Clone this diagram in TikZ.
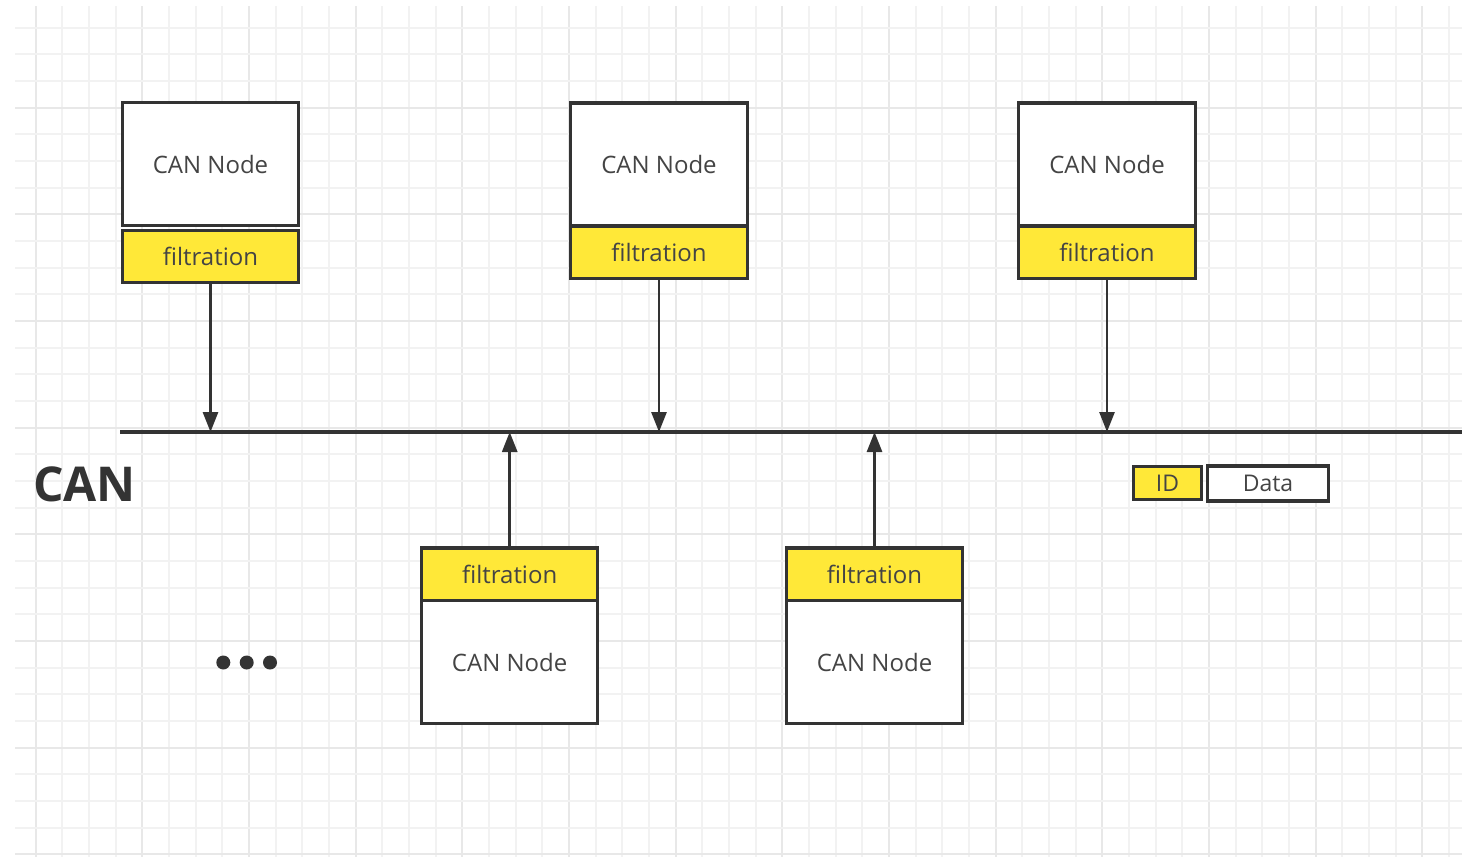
\documentclass[tikz,border=0pt]{standalone}
\usepackage{fontspec}
\setmainfont{Open Sans}
\usetikzlibrary{arrows.meta}
\definecolor{bd}{HTML}{333333}
\definecolor{yel}{HTML}{FFE838}
\definecolor{txt}{HTML}{444444}
\definecolor{gmin}{HTML}{F2F2F2}
\definecolor{gmaj}{HTML}{E8E8E8}
\tikzset{
  whitebox/.style={draw=bd, line width=3.3pt, fill=white, text=txt, inner sep=0pt, font=\fontsize{24}{28}\selectfont},
  yelbox/.style={draw=bd, line width=3.3pt, fill=yel, text=txt, inner sep=0pt, font=\fontsize{24}{28}\selectfont},
  busline/.style={draw=bd, line width=3.3pt},
  conn/.style={draw=bd, line width=2.8pt, -{Triangle[length=20pt,width=15pt]}},
  dot/.style={circle, fill=bd, inner sep=0pt, minimum size=14pt}
}
\begin{document}
\begin{tikzpicture}[x=1pt,y=-1pt]
\useasboundingbox (0,0) rectangle (1462,857);
\fill[white] (0,0) rectangle (1462,857);
% grid
\begin{scope}
\clip (15,6) rectangle (1462,857);
\foreach \i in {0,...,53} {
  \pgfmathtruncatemacro{\m}{mod(\i,4)}
  \pgfmathsetmacro{\gx}{round(35.67+26.667*\i)}
  \ifnum\m=0
    \draw[gmaj, line width=2pt] (\gx,6) -- ++(0,851);
  \else
    \draw[gmin, line width=2pt] (\gx,6) -- ++(0,851);
  \fi
}
\foreach \j in {0,...,32} {
  \pgfmathtruncatemacro{\m}{mod(\j,4)}
  \pgfmathsetmacro{\gy}{round(1+26.667*\j)}
  \ifnum\m=0
    \draw[gmaj, line width=2pt] (15,\gy) -- ++(1447,0);
  \else
    \draw[gmin, line width=2pt] (15,\gy) -- ++(1447,0);
  \fi
}
\end{scope}

% bus
\coordinate (busL) at (120,432);
\coordinate (busR) at (1462,432);
\draw[busline] (busL) -- (busR);
\coordinate (b1) at (210.5,432);
\coordinate (b2) at (659,432);
\coordinate (b3) at (1107,432);
\coordinate (b4) at (509.7,432);
\coordinate (b5) at (874.5,432);

% top nodes
\node[whitebox, minimum width=176pt, minimum height=123pt] (n1) at (210.5,164) {CAN Node};
\node[yelbox, minimum width=176pt, minimum height=52pt] (f1) at (210.5,256.5) {filtration};
\node[whitebox, minimum width=177pt, minimum height=123pt] (n2) at (659,164.5) {CAN Node};
\node[yelbox, minimum width=177pt, minimum height=52.5pt] (f2) at (659,252.25) {filtration};
\node[whitebox, minimum width=176.5pt, minimum height=123pt] (n3) at (1107,164.5) {CAN Node};
\node[yelbox, minimum width=176.5pt, minimum height=52.5pt] (f3) at (1107,252.25) {filtration};

% bottom nodes
\node[yelbox, minimum width=176pt, minimum height=52.5pt] (f4) at (509.7,574.25) {filtration};
\node[whitebox, minimum width=176pt, minimum height=123pt] (n4) at (509.7,662) {CAN Node};
\node[yelbox, minimum width=176pt, minimum height=52.5pt] (f5) at (874.5,574.25) {filtration};
\node[whitebox, minimum width=176pt, minimum height=123pt] (n5) at (874.5,662) {CAN Node};

% arrows
\draw[conn] (f1.south) -- (b1);
\draw[conn] (f2.south) -- (b2);
\draw[conn] (f3.south) -- (b3);
\draw[conn] (f4.north) -- (b4);
\draw[conn] (f5.north) -- (b5);

% CAN label
\node[anchor=west, inner sep=0pt, text=bd, font=\fontsize{48}{52}\selectfont\bfseries] (can) at (33,484.5) {CAN};

% dots
\node[dot] (d1) at (223.3,662.5) {};
\node[dot] (d2) at (246.7,662.5) {};
\node[dot] (d3) at (270,662.5) {};

% frame legend
\node[yelbox, minimum width=68.5pt, minimum height=33pt, font=\fontsize{23}{27}\selectfont] (id) at (1167.5,483) {ID};
\node[whitebox, minimum width=121pt, minimum height=35pt, font=\fontsize{23}{27}\selectfont] (data) at (1268,483.5) {Data};
\end{tikzpicture}
\end{document}
